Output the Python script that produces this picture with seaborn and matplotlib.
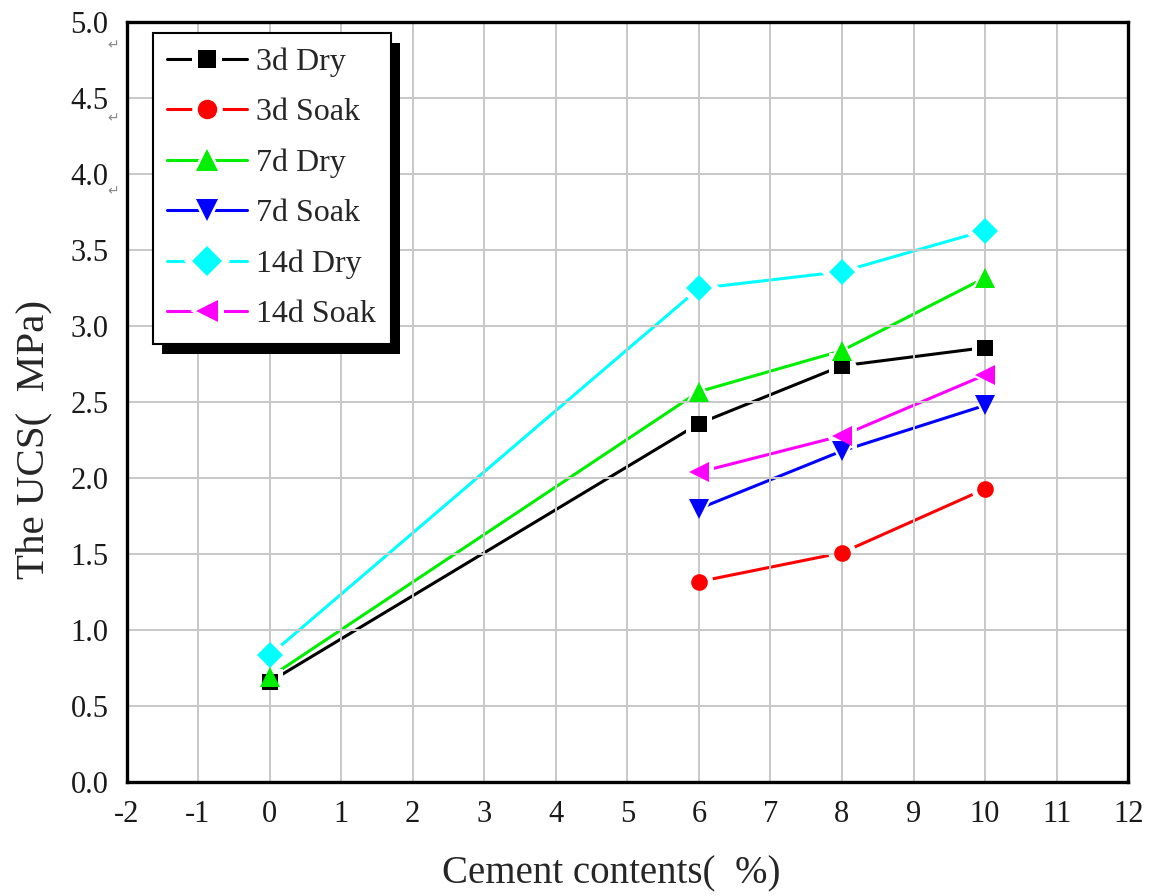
import numpy as np
import pandas as pd
import matplotlib
matplotlib.use("Agg")
import matplotlib.pyplot as plt
import matplotlib.patheffects as pe
from matplotlib.lines import Line2D
from matplotlib.legend_handler import HandlerTuple
from matplotlib.ticker import MultipleLocator
import seaborn as sns

# ---- data ----
series_names = ["3d Dry", "3d Soak", "7d Dry", "7d Soak", "14d Dry", "14d Soak"]
x_3d_dry = [0, 6, 8, 10]
y_3d_dry = [0.66, 2.36, 2.74, 2.86]
x_3d_soak = [6, 8, 10]
y_3d_soak = [1.32, 1.51, 1.93]
x_7d_dry = [0, 6, 8, 10]
y_7d_dry = [0.69, 2.57, 2.84, 3.32]
x_7d_soak = [6, 8, 10]
y_7d_soak = [1.80, 2.18, 2.48]
x_14d_dry = [0, 6, 8, 10]
y_14d_dry = [0.835, 3.25, 3.36, 3.63]
x_14d_soak = [6, 8, 10]
y_14d_soak = [2.04, 2.28, 2.68]

xs = [x_3d_dry, x_3d_soak, x_7d_dry, x_7d_soak, x_14d_dry, x_14d_soak]
ys = [y_3d_dry, y_3d_soak, y_7d_dry, y_7d_soak, y_14d_dry, y_14d_soak]

colors = ["#000000", "#ff0000", "#00ee00", "#0000ff", "#00ffff", "#ff00ff"]
markers = ["s", "o", "^", "v", "D", "<"]
msizes = [11, 12, 14, 14, 13, 14]

df = pd.DataFrame({
    "x": np.concatenate(xs),
    "y": np.concatenate(ys),
    "series": np.repeat(series_names, [len(a) for a in xs]),
})

sns.set_theme(style="white")
plt.rcParams["font.family"] = ["Liberation Serif", "DejaVu Sans"]
plt.rcParams["axes.unicode_minus"] = False

fig = plt.figure(figsize=(11.5, 8.96), dpi=100)
ax = fig.add_axes([0.110, 0.127, 0.871, 0.848])

gap = 8
# connecting lines (lowest layer)
for name, c in zip(series_names, colors):
    d = df[df["series"] == name]
    sns.lineplot(data=d, x="x", y="y", ax=ax, color=c, lw=2.2,
                 sort=False, estimator=None, zorder=1.2)
# white halos that open a gap in the line around every marker
for name, m, ms in zip(series_names, markers, msizes):
    d = df[df["series"] == name]
    ax.plot(d["x"], d["y"], ls="none", marker=m, ms=ms + gap,
            mfc="white", mec="white", mew=0, zorder=2.0)
# coloured markers (on top of the grid)
for name, c, m, ms in zip(series_names, colors, markers, msizes):
    d = df[df["series"] == name]
    ax.plot(d["x"], d["y"], ls="none", marker=m, ms=ms,
            mfc=c, mec=c, mew=0, zorder=3.0)

ax.set_xlim(-2, 12)
ax.set_ylim(0, 5.0)
ax.xaxis.set_major_locator(MultipleLocator(1))
ax.xaxis.set_minor_locator(MultipleLocator(0.5))
ax.yaxis.set_minor_locator(MultipleLocator(0.25))
yt = np.arange(0, 5.01, 0.5)
ax.set_yticks(yt)
ax.set_yticklabels([f"{v:.1f}" for v in yt])

ax.set_axisbelow(False)
ax.grid(True, which="major", color="#c8c8c8", lw=1.4, zorder=2.5)

for s in ax.spines.values():
    s.set_linewidth(2.4)
    s.set_color("black")
    s.set_zorder(4)

ax.tick_params(axis="both", which="major", direction="in", length=11, width=2.2,
               labelsize=22, pad=13, colors="black", labelcolor="#1a1a1a")
ax.tick_params(axis="both", which="minor", direction="in", length=6, width=2.2)
ax.tick_params(top=False, right=False, which="both")

ax.set_xlabel("Cement contents(\u2002%)", fontsize=28)
ax.set_ylabel("The UCS(\u2002MPa)", fontsize=29.5)
ax.xaxis.set_label_coords(0.4835, -0.096)
ax.yaxis.set_label_coords(-0.074, 0.451)

# paragraph-mark artefacts next to upper y labels
for v in [4.85, 4.37, 3.89]:
    ax.annotate("\u21b5", xy=(-0.013, v), xycoords=("axes fraction", "data"),
                fontsize=10, color="#888888", ha="center", va="center",
                family=["DejaVu Sans"], annotation_clip=False)

handles = []
for c, m, ms in zip(colors, markers, msizes):
    ln = Line2D([0], [0], color=c, lw=2.2)
    halo = Line2D([0], [0], ls="none", marker=m, ms=ms + gap + 2,
                  mfc="white", mec="white", mew=0)
    mk = Line2D([0], [0], ls="none", marker=m, ms=ms + 2, mfc=c, mec=c, mew=0)
    handles.append((ln, halo, mk))
leg = ax.legend(handles, series_names, loc="upper left",
                bbox_to_anchor=(0.026, 0.986), fontsize=23, frameon=True,
                fancybox=False, edgecolor="black", framealpha=1,
                handlelength=2.5, handletextpad=0.3, labelspacing=0.66,
                borderpad=0.45, borderaxespad=0,
                handler_map={tuple: HandlerTuple(ndivide=1, pad=0)})
leg.get_frame().set_linewidth(1.5)
leg.get_frame().set_path_effects([
    pe.SimplePatchShadow(offset=(7, -7), shadow_rgbFace="black", alpha=1),
    pe.Normal()])
leg.set_zorder(6)

fig.savefig("out.png", dpi=100, facecolor="white")
